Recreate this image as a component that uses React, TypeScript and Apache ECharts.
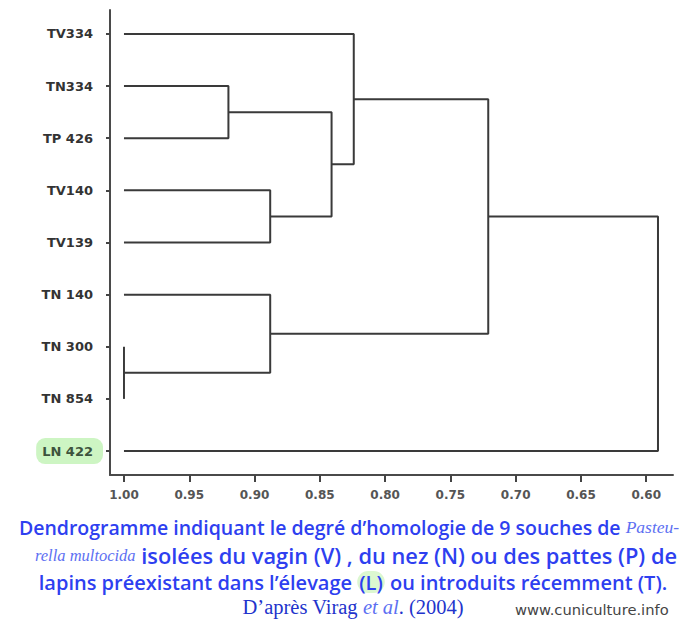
import React, { useEffect, useRef } from "react";
import * as echarts from "echarts";

const leafNames = ["TV334", "TN334", "TP 426", "TV140", "TV139", "TN 140", "TN 300", "TN 854", "LN 422"];
// merges create clusters 9..16 in order
const mergeLeft = [6, 1, 3, 5, 10, 0, 14, 15];
const mergeRight = [7, 2, 4, 9, 11, 13, 12, 8];
const mergeHeight = [1.0, 0.92, 0.888, 0.888, 0.841, 0.824, 0.721, 0.591];
const xTickValues = [1.0, 0.95, 0.9, 0.85, 0.8, 0.75, 0.7, 0.65, 0.6];

const BLUE = "#2e3ff0";
const ITAL = "#5d70f2";

export default function App() {
  const ref = useRef<HTMLDivElement>(null);
  useEffect(() => {
    document.body.style.margin = "0";
    const chart = echarts.init(ref.current!, null, { renderer: "svg" });
    const n = leafNames.length;
    const pos: number[] = leafNames.map((_, i) => i);
    const ht: number[] = leafNames.map(() => 1.0);
    const series: any[] = [];
    mergeLeft.forEach((a, k) => {
      const b = mergeRight[k];
      const h = mergeHeight[k];
      series.push({
        type: "line",
        silent: true,
        symbol: "none",
        lineStyle: { color: "#3a3a3a", width: 2 },
        data: [
          [ht[a], pos[a]],
          [h, pos[a]],
          [h, pos[b]],
          [ht[b], pos[b]],
        ],
      });
      pos[n + k] = (pos[a] + pos[b]) / 2;
      ht[n + k] = h;
    });
    const leafIdx = leafNames.map((_, i) => i);
    const bold = (size: number) => ({
      fontFamily: "Open Sans",
      fontWeight: 600,
      fontSize: size,
      fill: BLUE,
      color: BLUE,
    });
    const ital = (size: number) => ({
      fontFamily: "Liberation Serif",
      fontStyle: "italic",
      fontSize: size,
      fill: ITAL,
      color: ITAL,
    });
    chart.setOption({
      animation: false,
      backgroundColor: "#ffffff",
      grid: { left: 110, right: 20, top: 10, bottom: 144 },
      xAxis: {
        type: "value",
        inverse: true,
        min: 0.5795,
        max: 1.0107,
        position: "bottom",
        splitLine: { show: false },
        axisLine: { onZero: false, lineStyle: { color: "#4a4a4a", width: 2 } },
        axisTick: { customValues: xTickValues, length: 7, lineStyle: { color: "#444", width: 2 } },
        axisLabel: {
          customValues: xTickValues,
          formatter: (v: number) => v.toFixed(2),
          margin: 14,
          fontSize: 12,
          fontWeight: "bold",
          fontFamily: "DejaVu Sans",
          color: "#555",
        },
      },
      yAxis: {
        type: "value",
        inverse: true,
        min: -0.46,
        max: 8.46,
        splitLine: { show: false },
        axisLine: { onZero: false, lineStyle: { color: "#4a4a4a", width: 2 } },
        axisTick: { customValues: leafIdx, length: 4, lineStyle: { color: "#444", width: 2 } },
        axisLabel: {
          customValues: leafIdx,
          margin: 7,
          formatter: (v: number) => {
            const name = leafNames[Math.round(v)];
            return name.startsWith("L") ? `{g|${name}}` : `{n|${name}}`;
          },
          rich: {
            n: {
              padding: [7, 10, 7, 8],
              fontSize: 13,
              fontWeight: "bold",
              fontFamily: "DejaVu Sans",
              color: "#333",
            },
            g: {
              padding: [7, 10, 6, 6],
              fontSize: 13,
              fontWeight: "bold",
              fontFamily: "DejaVu Sans",
              color: "#3d533d",
              backgroundColor: "#cdf5c3",
              borderRadius: 9,
            },
          },
        },
      },
      series,
      graphic: [
        {
          type: "text",
          x: 349,
          y: 527,
          style: {
            text: "{b|Dendrogramme indiquant le degré d’homologie de 9 souches de }{i|Pasteu-}",
            rich: { b: bold(19.5), i: ital(17.5) },
            align: "center",
            verticalAlign: "middle",
          },
        },
        {
          type: "text",
          x: 356,
          y: 555,
          style: {
            text: "{i|rella multocida}{b| isolées du vagin (V) , du nez (N) ou des pattes (P) de}",
            rich: { b: bold(21.8), i: ital(16.5) },
            align: "center",
            verticalAlign: "middle",
          },
        },
        {
          type: "text",
          x: 353,
          y: 582,
          style: {
            text: "{b|lapins préexistant dans l’élevage }{l|(L)}{b| ou introduits récemment (T).}",
            rich: {
              b: bold(20),
              l: { ...bold(20), backgroundColor: "#dcf7d0", borderRadius: 12, padding: [1, 2, 1, 2] },
            },
            align: "center",
            verticalAlign: "middle",
          },
        },
        {
          type: "text",
          x: 353,
          y: 607,
          style: {
            text: "{s|D’après Virag }{e|et al}{s|. (2004)}",
            rich: {
              s: { fontFamily: "Liberation Serif", fontSize: 20.5, fill: "#2233cc", color: "#2233cc" },
              e: { fontFamily: "Liberation Serif", fontStyle: "italic", fontSize: 20.5, fill: ITAL, color: ITAL },
            },
            align: "center",
            verticalAlign: "middle",
          },
        },
        {
          type: "text",
          x: 515,
          y: 609,
          style: {
            text: "www.cuniculture.info",
            font: "14.7px 'DejaVu Sans'",
            fill: "#444",
            align: "left",
            verticalAlign: "middle",
          },
        },
      ],
    });
    return () => chart.dispose();
  }, []);
  return <div ref={ref} style={{ width: 693, height: 619 }} />;
}
